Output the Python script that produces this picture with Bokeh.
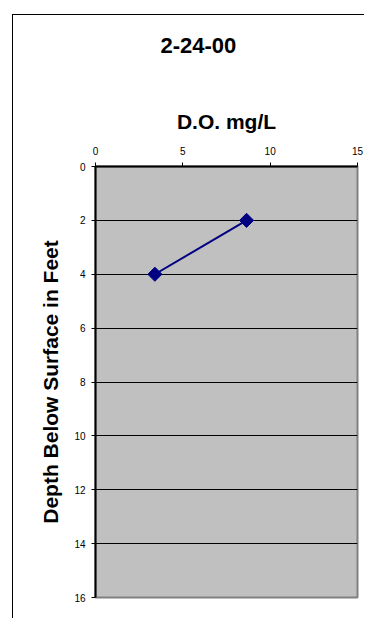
import numpy as np
from bokeh.plotting import figure
from bokeh.models import Range1d, FixedTicker, Title
from bokeh.embed import file_html
from bokeh.resources import INLINE

# data
depth_ft = [2, 4]
do_mg_l = [8.65, 3.4]
x_ticks = [0, 5, 10, 15]
y_ticks = [0, 2, 4, 6, 8, 10, 12, 14, 16]
title_text = "2-24-00"
x_label = "D.O. mg/L"
y_label = "Depth Below Surface in Feet"

FONT = "Liberation Sans"

p = figure(width=352, height=604, output_backend="svg", toolbar_location=None,
           x_range=Range1d(0, 15), y_range=Range1d(16, 0),
           x_axis_location="above", min_border_left=82, min_border_right=8,
           min_border_top=151, min_border_bottom=22)

# outer chart border (only left/top edges fall inside the window)
p.styles = {"margin-left": "12px", "margin-top": "14px",
            "border-left": "1px solid black", "border-top": "1px solid black"}

p.background_fill_color = "#C0C0C0"
p.border_fill_color = "white"
p.outline_line_color = "#808080"
p.outline_line_width = 2

xa = p.xaxis[0]
xa.ticker = FixedTicker(ticks=x_ticks)
xa.axis_label = x_label
xa.axis_label_text_font = FONT
xa.axis_label_text_font_size = "21px"
xa.axis_label_text_font_style = "bold"
xa.axis_label_text_color = "black"
xa.axis_label_standoff = 11
xa.major_label_text_font = FONT
xa.major_label_text_font_size = "10px"
xa.major_label_text_color = "black"
xa.major_label_standoff = 8
xa.axis_line_color = "black"
xa.axis_line_width = 2
xa.major_tick_out = 4
xa.major_tick_in = 0
xa.major_tick_line_color = "black"
xa.minor_tick_line_color = None

# empty spacer panel between the axis title and the chart title
p.add_layout(Title(text=" ", text_font_size="10px", standoff=21), "above")
# chart title (centred on the whole chart, not on the plot area)
p.add_layout(Title(text=title_text, text_font=FONT, text_font_size="22px",
                   text_font_style="bold", text_color="black",
                   align="left", offset=65, standoff=40), "above")

ya = p.yaxis[0]
ya.ticker = FixedTicker(ticks=y_ticks)
ya.axis_label = y_label
ya.axis_label_text_font = FONT
ya.axis_label_text_font_size = "21px"
ya.axis_label_text_font_style = "bold"
ya.axis_label_text_color = "black"
ya.axis_label_standoff = 9
ya.major_label_text_font = FONT
ya.major_label_text_font_size = "10px"
ya.major_label_text_color = "black"
ya.major_label_standoff = 6
ya.axis_line_color = "black"
ya.axis_line_width = 2
ya.major_tick_out = 4
ya.major_tick_in = 0
ya.major_tick_line_color = "black"
ya.minor_tick_line_color = None

p.xgrid.grid_line_color = None
p.ygrid.ticker = FixedTicker(ticks=y_ticks)
p.ygrid.grid_line_color = "black"
p.ygrid.grid_line_width = 1

p.line(do_mg_l, depth_ft, line_color="#000080", line_width=2)
p.scatter(do_mg_l, depth_ft, marker="square", size=10, angle=np.pi / 4,
          fill_color="#000080", line_color="#000080")

open("out.html", "w").write(file_html(p, INLINE))
